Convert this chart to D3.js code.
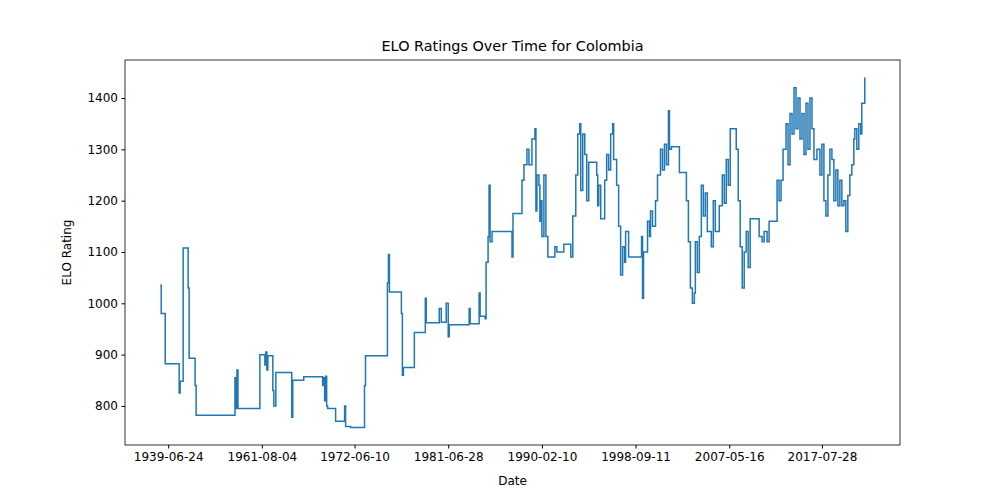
<!DOCTYPE html>
<html>
<head>
<meta charset="UTF-8">
<script src="https://cdn.jsdelivr.net/npm/d3@7"></script>
<style>
  body{margin:0;background:#fff;}
  text{font-family:"DejaVu Sans",sans-serif;}
</style>
</head>
<body>
<svg id="chart" width="1000" height="500"></svg>
<script>
// [match number, ELO rating after that match]
var steps = [
 [0,1035],[1,980],[3,980],[5,900],[5,882],[19,825],[20,848],[23,1108],[28,1030],[29,893],[35,840],[36,782],
 [75,855],[76,795],[77,870],[78,795],[100,900],[105,880],[106,905],[107,870],[108,898],[113,830],[114,800],[116,865],
 [132,778],[133,850],[144,857],[163,840],[164,855],[165,810],[166,858],[167,800],[168,795],[176,770],[185,800],[186,760],[191,758],
 [205,840],[206,898],[228,1040],[229,1095],[230,1022],[242,980],[243,860],[244,875],[255,943],[266,1010],[267,962],
 [280,990],[282,963],[287,1000],[289,935],[290,958],[310,990],[311,960],[320,1020],[321,975],[326,970],[327,1080],[329,1130],[330,1230],[331,1120],[333,1140],
 [353,1090],[354,1175],[363,1240],[365,1270],[368,1300],[370,1270],[373,1320],[376,1340],[377,1180],[378,1250],[380,1230],[381,1160],[382,1200],[383,1130],[385,1250],[387,1130],[389,1090],
 [396,1110],[398,1100],[405,1115],[412,1090],[414,1170],[417,1250],[419,1330],[421,1350],[422,1220],[424,1330],[426,1290],[428,1200],[430,1275],[438,1250],[439,1190],[440,1230],[442,1165],
 [446,1240],[448,1290],[450,1260],[452,1330],[454,1350],[455,1280],[458,1230],[460,1150],[462,1055],[464,1110],[466,1080],[467,1140],[470,1090],[483,1130],[484,1010],[485,1100],[489,1160],[491,1130],[492,1180],[494,1150],[497,1200],[499,1250],
 [502,1300],[504,1260],[506,1310],[508,1270],[510,1375],[511,1300],[513,1305],[521,1255],[528,1200],[530,1120],[532,1030],[534,1000],[536,1020],[537,1120],[539,1060],[541,1130],[543,1230],[545,1170],[547,1215],[549,1140],
 [553,1110],[555,1200],[557,1140],[561,1190],[564,1250],[566,1195],[568,1280],[570,1230],[572,1340],[578,1300],[580,1200],[582,1110],[584,1030],[586,1100],[588,1140],[590,1070],[592,1165],[601,1130],[604,1120],[606,1140],[609,1120],[611,1160],
 [619,1240],[621,1200],[623,1240],[625,1300],[628,1350],[630,1270],[632,1370],[634,1330],[636,1420],[638,1340],[640,1400],[642,1320],[644,1370],[646,1290],[648,1390],[650,1300],[652,1400],[654,1340],[656,1280],[659,1300],
 [662,1250],[664,1310],[666,1200],[668,1170],[670,1250],[672,1300],[674,1280],[676,1200],[678,1260],[680,1190],[682,1240],[684,1190],[686,1200],[688,1140],[690,1210],[692,1250],[694,1270],[696,1320],[697,1340],[699,1300],[701,1350],[703,1330],[704,1390],[707,1440]
];
var tickMatch = [8,102,195,289,383,477,571,664];
var tickDates = ["1939-06-24","1961-08-04","1972-06-10","1981-06-28","1990-02-10","1998-09-11","2007-05-16","2017-07-28"];
var yTicks = [800,900,1000,1100,1200,1300,1400];

var data = steps.map(d => ({m: d[0], v: d[1]}));

var L = 125, R = 900, T = 60, B = 445;
var svg = d3.select("#chart");

var xe = d3.extent(data, d => d.m), ye = d3.extent(data, d => d.v);
var xp = (xe[1]-xe[0])*0.05, yp = (ye[1]-ye[0])*0.05;
var x = d3.scaleLinear().domain([xe[0]-xp, xe[1]+xp]).range([L, R]);
var y = d3.scaleLinear().domain([ye[0]-yp, ye[1]+yp]).range([B, T]);

var xAxis = d3.axisBottom(x).tickValues(tickMatch).tickFormat((d, i) => tickDates[i]).tickSize(3.5).tickPadding(3.5);
var yAxis = d3.axisLeft(y).tickValues(yTicks).tickFormat(d3.format("d")).tickSize(3.5).tickPadding(3.5);

var gx = svg.append("g").attr("transform", "translate(0," + B + ")").call(xAxis);
var gy = svg.append("g").attr("transform", "translate(" + L + ",0)").call(yAxis);
[gx, gy].forEach(g => {
  g.select(".domain").remove();
  g.selectAll("text").attr("font-size", 12).attr("fill", "#000");
  g.selectAll("line").attr("stroke", "#000");
});

svg.append("path").datum(data)
  .attr("fill", "none").attr("stroke", "#1f77b4").attr("stroke-width", 1.5)
  .attr("d", d3.line().curve(d3.curveStepAfter).x(d => x(d.m)).y(d => y(d.v)));

svg.append("rect").attr("x", L).attr("y", T).attr("width", R-L).attr("height", B-T)
  .attr("fill", "none").attr("stroke", "#000").attr("stroke-width", 0.8);

svg.append("text").attr("x", (L+R)/2).attr("y", T-9).attr("text-anchor", "middle")
  .attr("font-size", 14.4).text("ELO Ratings Over Time for Colombia");
svg.append("text").attr("x", (L+R)/2).attr("y", 485).attr("text-anchor", "middle")
  .attr("font-size", 12).text("Date");
svg.append("text").attr("transform", "translate(71," + (T+B)/2 + ") rotate(-90)")
  .attr("text-anchor", "middle").attr("font-size", 12).text("ELO Rating");
</script>
</body>
</html>
